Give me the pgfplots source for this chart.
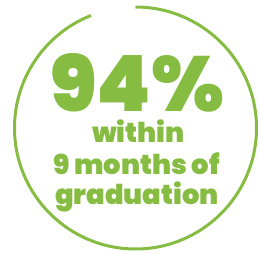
\documentclass[border=0pt]{standalone}
\usepackage{pgfplots}
\pgfplotsset{compat=1.18}
\usepackage{fontspec}
\IfFontExistsTF{Poppins Black}{\newfontfamily\heavy{Poppins Black}}{\newfontfamily\heavy{Poppins}[UprightFont=* Bold]}
\definecolor{grn}{RGB}{134,188,66}
\pgfmathsetmacro{\pct}{94}
\begin{document}
\begin{tikzpicture}
\begin{axis}[scale only axis, width=260bp, height=254bp,
  xmin=0, xmax=260, ymin=0, ymax=254, hide axis, clip=false]
\addplot[draw=none, mark=none] coordinates {(0,0) (260,254)};
\path (axis cs:0,0) rectangle (axis cs:260,254);
\draw[grn, line width=3bp] (axis cs:135.5,247) arc[start angle=90, delta angle=-3.6*\pct, radius=121bp];
\node[anchor=base, text=grn, inner sep=0pt] at (axis cs:137.5,142) {\fontsize{78}{78}\heavy 94\%};
\node[anchor=base, text=grn, inner sep=0pt] at (axis cs:138.5,111) {\fontsize{27.5}{27.5}\heavy within};
\node[anchor=base, text=grn, inner sep=0pt] at (axis cs:136.5,79) {\fontsize{27.5}{27.5}\heavy 9 months of};
\node[anchor=base, text=grn, inner sep=0pt] at (axis cs:137,49) {\fontsize{27.5}{27.5}\heavy graduation};
\end{axis}
\end{tikzpicture}
\end{document}
